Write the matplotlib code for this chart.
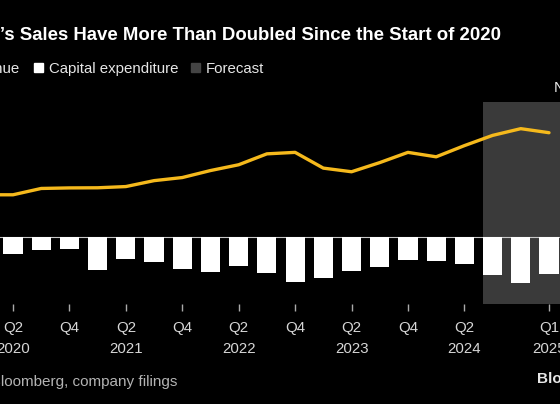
import matplotlib
matplotlib.use("Agg")
import matplotlib.pyplot as plt
import numpy as np
from matplotlib.patches import Rectangle
from matplotlib.transforms import blended_transform_factory

# quarterly figures, NT$ billions
quarters = [
    "Q1 2020", "Q2 2020", "Q3 2020", "Q4 2020",
    "Q1 2021", "Q2 2021", "Q3 2021", "Q4 2021",
    "Q1 2022", "Q2 2022", "Q3 2022", "Q4 2022",
    "Q1 2023", "Q2 2023", "Q3 2023", "Q4 2023",
    "Q1 2024", "Q2 2024", "Q3 2024", "Q4 2024",
    "Q1 2025",
]
revenue = [311, 311, 358, 362, 363, 372, 416, 439, 491, 534, 615, 626,
           509, 482, 550, 626, 593, 676, 752, 802, 772]
capex = [185, 126, 97, 89, 250, 166, 188, 238, 262, 218, 267, 336,
         304, 252, 228, 171, 183, 206, 282, 344, 277]
forecast_from = "Q3 2024"

tick_quarters = ["Q2 2020", "Q4 2020", "Q2 2021", "Q4 2021", "Q2 2022",
                 "Q4 2022", "Q2 2023", "Q4 2023", "Q2 2024", "Q1 2025"]
tick_labels = ["Q2", "Q4", "Q2", "Q4", "Q2", "Q4", "Q2", "Q4", "Q2", "Q1"]
year_quarters = ["Q2 2020", "Q2 2021", "Q2 2022", "Q2 2023", "Q2 2024", "Q1 2025"]
year_labels = ["2020", "2021", "2022", "2023", "2024", "2025"]

W, H = 560, 404
FONT = "Liberation Sans"
YELLOW = "#f5b91c"
SHADE = "#3a3a3a"


def fx(px):
    return px / W


def fy(py):
    return 1 - py / H


plt.rcParams["font.family"] = [FONT, "DejaVu Sans"]

fig = plt.figure(figsize=(W / 100, H / 100), dpi=100, facecolor="black")
ax = fig.add_axes([0, fy(304), 1, (304 - 102) / H])
ax.set_facecolor("black")

x = np.arange(len(quarters))
fc = quarters.index(forecast_from)

ax.axvspan(fc - 0.35, len(quarters) + 1, color=SHADE, zorder=0, lw=0)
ax.axhline(0, color="#c8c8c8", lw=0.8, zorder=1)
ax.bar(x, [-c for c in capex], width=0.68, color="white", zorder=2)
ax.plot(x, revenue, color=YELLOW, lw=2.4, zorder=3,
        solid_joinstyle="round", solid_capstyle="round")

ax.set_xlim(0.539, 20.39)
ax.set_ylim(-500, 1000)
for s in ax.spines.values():
    s.set_visible(False)
ax.set_yticks([])
ax.set_xticks([quarters.index(q) for q in tick_quarters])
ax.set_xticklabels(tick_labels)
ax.tick_params(axis="x", colors="#aaaaaa", length=5, width=1, pad=7.5,
               labelcolor="#d6d6d6", labelsize=10.8)

trans = blended_transform_factory(ax.transData, fig.transFigure)
for q, yr in zip(year_quarters, year_labels):
    ax.text(quarters.index(q), fy(353), yr, transform=trans, ha="center",
            va="baseline", fontsize=10.8, color="#d6d6d6", clip_on=False)

# title and legend
fig.text(fx(501), fy(40), "TSMC\u2019s Sales Have More Than Doubled Since the Start of 2020",
         ha="right", va="baseline", fontsize=13.45, weight="bold", color="white")
fig.text(fx(20), fy(73), "Revenue", ha="right", va="baseline",
         fontsize=10.8, color="#e6e6e6")
fig.patches.append(Rectangle((fx(34), fy(72)), fx(9), 9 / H, color="white",
                             transform=fig.transFigure, figure=fig))
fig.text(fx(49), fy(73), "Capital expenditure", ha="left", va="baseline",
         fontsize=10.8, color="#e6e6e6")
fig.patches.append(Rectangle((fx(191), fy(72)), fx(9), 9 / H, color="#444444",
                             transform=fig.transFigure, figure=fig))
fig.text(fx(206), fy(73), "Forecast", ha="left", va="baseline",
         fontsize=10.8, color="#e6e6e6")
fig.text(fx(554), fy(92), "NT$", ha="left", va="baseline",
         fontsize=10.8, color="#e6e6e6")

# footer
fig.text(fx(177), fy(386), "Source: Bloomberg, company filings", ha="right",
         va="baseline", fontsize=11, color="#b3b3b3")
fig.text(fx(537), fy(383), "Bloomberg", ha="left", va="baseline",
         fontsize=11, weight="bold", color="#e6e6e6")

fig.savefig("out.png", dpi=100, facecolor="black")
